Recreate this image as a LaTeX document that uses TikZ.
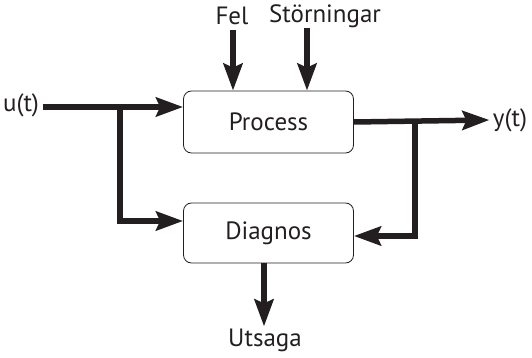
\documentclass[tikz,border=0pt]{standalone}
\usepackage{fontspec}
\setmainfont{PT Sans}
\usetikzlibrary{arrows.meta,positioning,calc}
\definecolor{ink}{HTML}{231F20}
\begin{document}
\begin{tikzpicture}[
	x=1pt,y=-1pt,
	>={Stealth[length=27pt,width=19pt,inset=4pt]},
	every node/.style={font=\fontsize{25}{29}\selectfont, text=ink},
	blockbox/.style={draw=ink, line width=0.8pt, rounded corners=8pt, minimum width=170pt, minimum height=62pt},
	flow/.style={draw=ink, line width=5.5pt},
	]
	\useasboundingbox (0,0) rectangle (532,358);
	
	% --------------------------
	% Blocks
	% --------------------------
	\node[blockbox] (proc) at (268.5,122) {Process};
	\node[blockbox, minimum height=60pt] (diag) at (268.5,233) {Diagnos};
	
	% --------------------------
	% Signal labels
	% --------------------------
	\node (ut) at (21,105) {u(t)};
	\node (yt) at (510,120) {y(t)};
	\node (fel) at (232,16) {Fel};
	\node (stor) at (325,16) {Störningar};
	\node[inner sep=2pt] (utsaga) at (265,340) {Utsaga};
	
	% branch points and feed points
	\coordinate (bu) at (120,107);
	\coordinate (by) at (415,122);
	\coordinate (felin) at (233,30);
	\coordinate (storin) at (307,28);
	\coordinate (diagout) at (264,263);
	
	% --------------------------
	% Connections
	% --------------------------
	\draw[flow, ->] (ut.east |- bu) -- (bu -| proc.west);
	\draw[flow, ->] (bu) |- ($(diag.west)+(0,-12)$);
	\draw[flow, ->] (proc.east) -- (yt.west);
	\draw[flow, ->] (by) |- ($(diag.east)+(0,3)$);
	\draw[flow, ->] (felin) -- (felin |- proc.north);
	\draw[flow, ->] (storin) -- (storin |- proc.north);
	\draw[flow, ->] (diagout) -- (diagout |- utsaga.north);
	
\end{tikzpicture}
\end{document}
